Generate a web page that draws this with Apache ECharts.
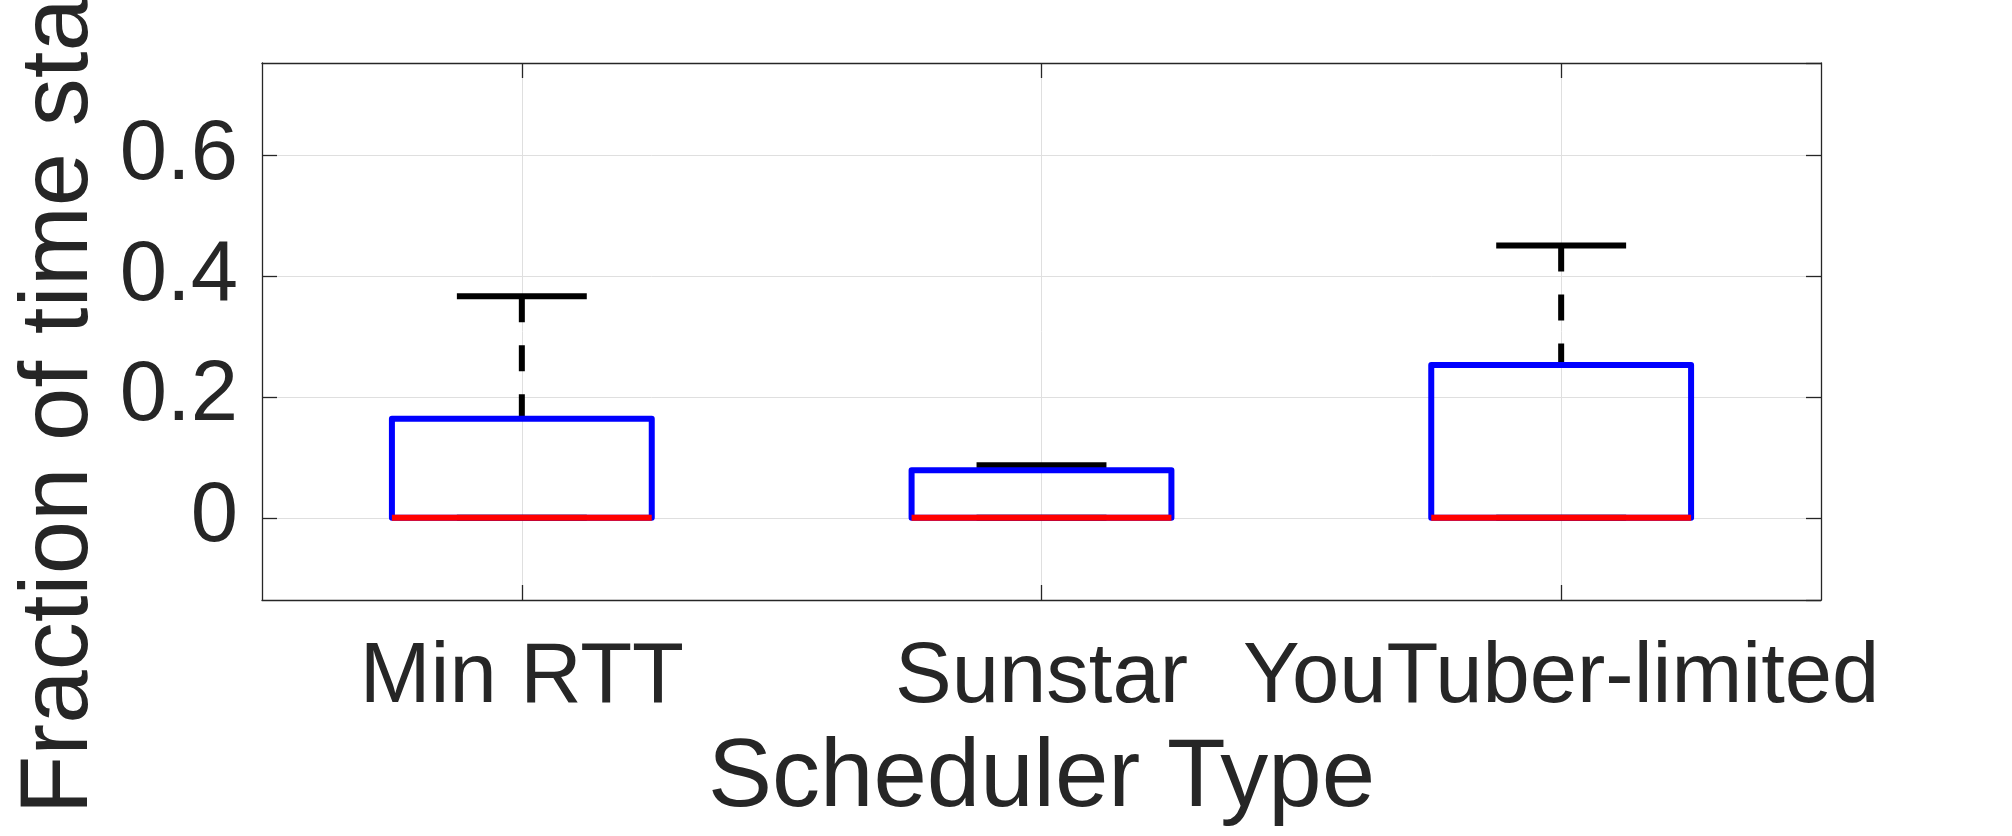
<!DOCTYPE html>
<html>
<head>
<meta charset="utf-8">
<script src="https://cdn.jsdelivr.net/npm/echarts@6/dist/echarts.min.js"></script>
<style>
html,body{margin:0;padding:0;background:#fff;}
#chart{width:2012px;height:836px;}
</style>
</head>
<body>
<div id="chart"></div>
<script>
// Data
const categories = ['Min RTT', 'Sunstar', 'YouTuber-limited'];
const lowerWhisker = [0, 0, 0];
const q1 = [0, 0, 0];
const median = [0, 0, 0];
const q3 = [0.164, 0.079, 0.253];
const upperWhisker = [0.367, 0.087, 0.451];
const yMin = -0.136;
const yMax = 0.753;
const xTitle = 'Scheduler Type';
const yTitle = 'Fraction of time stalled';

const boxData = categories.map((c, i) => [i, lowerWhisker[i], q1[i], median[i], q3[i], upperWhisker[i]]);

const FONT = 'Liberation Sans, Arial, Helvetica, sans-serif';
const AX = '#262626';
const GRID = '#dfdfdf';
const TICK_FS = 85;
const LABEL_FS = 96;

const chart = echarts.init(document.getElementById('chart'), null, {renderer: 'canvas'});

function renderBox(params, api) {
  const i = api.value(0);
  const lo = api.coord([i, api.value(1)]);
  const p1 = api.coord([i, api.value(2)]);
  const pm = api.coord([i, api.value(3)]);
  const p3 = api.coord([i, api.value(4)]);
  const hi = api.coord([i, api.value(5)]);
  const band = api.size([1, 0])[0];
  const hw = band * 0.25;
  const cw = band * 0.125;
  const x = p3[0];
  const lw = 6;
  return {
    type: 'group',
    children: [
      {type: 'line', shape: {x1: x, y1: hi[1], x2: x, y2: p3[1]},
       style: {stroke: '#000', lineWidth: lw, lineDash: [26, 23]}},
      {type: 'line', shape: {x1: x - cw, y1: hi[1], x2: x + cw, y2: hi[1]},
       style: {stroke: '#000', lineWidth: lw}},
      {type: 'line', shape: {x1: x, y1: lo[1], x2: x, y2: p1[1]},
       style: {stroke: '#000', lineWidth: lw, lineDash: [26, 23]}},
      {type: 'line', shape: {x1: x - cw, y1: lo[1], x2: x + cw, y2: lo[1]},
       style: {stroke: '#000', lineWidth: lw}},
      {type: 'rect', shape: {x: x - hw, y: p3[1], width: 2 * hw, height: p1[1] - p3[1]},
       style: {fill: 'none', stroke: '#0000ff', lineWidth: lw, lineJoin: 'round'}},
      {type: 'line', shape: {x1: x - hw, y1: pm[1], x2: x + hw, y2: pm[1]},
       style: {stroke: '#ff0000', lineWidth: lw}}
    ]
  };
}

const option = {
  backgroundColor: '#fff',
  animation: false,
  textStyle: {fontFamily: FONT},
  grid: {left: 262, right: 191, top: 63, bottom: 236, containLabel: false, outerBoundsMode: 'none'},
  xAxis: [
    {
      type: 'category',
      data: categories,
      position: 'bottom',
      boundaryGap: true,
      name: xTitle,
      nameLocation: 'middle',
      nameGap: 132,
      nameTextStyle: {fontSize: LABEL_FS, color: AX, fontFamily: FONT},
      axisLine: {show: true, onZero: false, lineStyle: {color: AX, width: 1.3}},
      axisTick: {show: true, inside: true, length: 15, alignWithLabel: true, lineStyle: {color: AX, width: 1.3}},
      axisLabel: {show: true, margin: 36, fontSize: TICK_FS, color: AX, fontFamily: FONT, interval: 0},
      splitLine: {show: true, alignWithLabel: true, lineStyle: {color: GRID, width: 1}}
    },
    {
      type: 'category',
      data: categories,
      position: 'top',
      boundaryGap: true,
      axisLine: {show: true, onZero: false, lineStyle: {color: AX, width: 1.3}},
      axisTick: {show: true, inside: true, length: 15, alignWithLabel: true, lineStyle: {color: AX, width: 1.3}},
      axisLabel: {show: false},
      splitLine: {show: false}
    }
  ],
  yAxis: [
    {
      type: 'value',
      min: yMin,
      max: yMax,
      splitNumber: 4,
      position: 'left',
      name: yTitle,
      nameLocation: 'middle',
      nameGap: 145,
      nameTextStyle: {fontSize: LABEL_FS, color: AX, fontFamily: FONT},
      axisLine: {show: true, onZero: false, lineStyle: {color: AX, width: 1.3}},
      axisTick: {show: true, inside: true, length: 15, lineStyle: {color: AX, width: 1.3}},
      axisLabel: {
        show: true, margin: 24, fontSize: TICK_FS, color: AX, fontFamily: FONT,
        showMinLabel: false, showMaxLabel: false,
        formatter: v => {
          const r = Math.round(v * 10) / 10;
          if (Math.abs(v - r) > 1e-6) return '';
          return String(r);
        }
      },
      splitLine: {show: true, lineStyle: {color: GRID, width: 1}}
    },
    {
      type: 'value',
      min: yMin,
      max: yMax,
      splitNumber: 4,
      position: 'right',
      axisLine: {show: true, onZero: false, lineStyle: {color: AX, width: 1.3}},
      axisTick: {show: true, inside: true, length: 15, lineStyle: {color: AX, width: 1.3}},
      axisLabel: {show: false},
      splitLine: {show: false}
    }
  ],
  series: [
    {
      type: 'custom',
      xAxisIndex: 0,
      yAxisIndex: 0,
      renderItem: renderBox,
      encode: {x: 0, y: [1, 2, 3, 4, 5]},
      data: boxData,
      clip: false,
      z: 5
    }
  ]
};

chart.setOption(option);
</script>
</body>
</html>
